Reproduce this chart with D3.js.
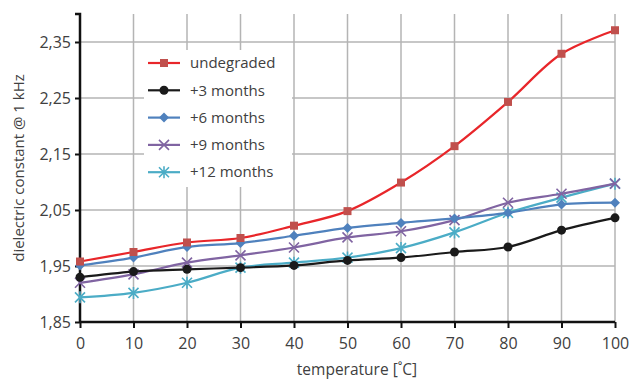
<!DOCTYPE html>
<html>
<head>
<meta charset="utf-8">
<script src="https://cdn.jsdelivr.net/npm/d3@7"></script>
<style>
  body { margin: 0; background: #fff; }
  svg text { font-family: "Open Sans", sans-serif; fill: #404040; }
</style>
</head>
<body>
<svg id="chart" width="629" height="381"></svg>
<script>
const temperatures = [0, 10, 20, 30, 40, 50, 60, 70, 80, 90, 100];
const undegraded = [1.958, 1.975, 1.992, 2.000, 2.022, 2.048, 2.099, 2.164, 2.243, 2.329, 2.371];
const months3 = [1.930, 1.940, 1.944, 1.947, 1.951, 1.960, 1.965, 1.975, 1.984, 2.014, 2.036];
const months6 = [1.951, 1.965, 1.984, 1.991, 2.004, 2.018, 2.027, 2.035, 2.045, 2.060, 2.063];
const months9 = [1.920, 1.935, 1.956, 1.969, 1.983, 2.001, 2.012, 2.032, 2.063, 2.079, 2.097];
const months12 = [1.894, 1.902, 1.920, 1.947, 1.956, 1.965, 1.982, 2.010, 2.045, 2.072, 2.097];
const yTicks = [1.85, 1.95, 2.05, 2.15, 2.25, 2.35];
const xTicks = [0, 10, 20, 30, 40, 50, 60, 70, 80, 90, 100];

const seriesList = [
  { name: 'undegraded', values: undegraded, line: '#e8262a', marker: '#c0504d', shape: 'square' },
  { name: '+3 months', values: months3, line: '#1a1a1a', marker: '#1a1a1a', shape: 'circle' },
  { name: '+6 months', values: months6, line: '#4f81bd', marker: '#4f81bd', shape: 'diamond' },
  { name: '+9 months', values: months9, line: '#8064a2', marker: '#8064a2', shape: 'cross' },
  { name: '+12 months', values: months12, line: '#4bacc6', marker: '#4bacc6', shape: 'star' }
];

const svg = d3.select('#chart');
const margin = { left: 80, right: 14, top: 14, bottom: 59 };
const width = 629, height = 381;

const x = d3.scaleLinear().domain([0, 100]).range([margin.left, width - margin.right]);
const y = d3.scaleLinear().domain([1.85, 2.40]).range([height - margin.bottom, margin.top]);

const fmt = d => d.toFixed(2).replace('.', ',');

// Grid
const grid = svg.append('g');
grid.selectAll('line.v')
  .data(xTicks.filter(t => t > 0))
  .join('line')
  .attr('x1', d => x(d)).attr('x2', d => x(d))
  .attr('y1', y.range()[1]).attr('y2', y.range()[0])
  .attr('stroke', '#b4b4b4').attr('stroke-width', 1.5);
grid.selectAll('line.h')
  .data(yTicks.filter(t => t > 1.85))
  .join('line')
  .attr('x1', x(0)).attr('x2', x(100))
  .attr('y1', d => y(d)).attr('y2', d => y(d))
  .attr('stroke', '#b4b4b4').attr('stroke-width', 1.5);

// Axes
const yAxis = svg.append('g')
  .attr('transform', `translate(${x(0)},0)`)
  .call(d3.axisLeft(y).tickValues(yTicks).tickFormat(fmt).tickSize(5).tickPadding(4));
const xAxis = svg.append('g')
  .attr('transform', `translate(0,${y(1.85)})`)
  .call(d3.axisBottom(x).tickValues(xTicks).tickSize(6).tickPadding(6));
[yAxis, xAxis].forEach(a => {
  a.select('.domain').attr('stroke', '#111').attr('stroke-width', 2.5);
  a.selectAll('.tick line').attr('stroke', '#111').attr('stroke-width', 2);
  a.selectAll('.tick text').attr('font-size', 16).style('font-family', '"Open Sans", sans-serif').attr('fill', '#404040');
});
yAxis.select('.domain').attr('d', `M-5,${y(2.40)}H0V${y(1.85)}`);
xAxis.select('.domain').attr('d', `M${x(0)},0H${x(100)}`);
xAxis.selectAll('.tick text').attr('dy', '0.95em');

// Axis titles
svg.append('text')
  .attr('x', 357).attr('y', 370).attr('dy', '0.35em')
  .attr('text-anchor', 'middle').attr('font-size', 15.5)
  .text('temperature [˚C]');
svg.append('text')
  .attr('transform', `translate(19,168) rotate(-90)`)
  .attr('dy', '0.35em')
  .attr('text-anchor', 'middle').attr('font-size', 15)
  .text('dielectric constant @ 1 kHz');

// Markers
function drawMarker(g, shape, color, cx, cy) {
  if (shape === 'square') {
    g.append('rect').attr('x', cx - 4).attr('y', cy - 4).attr('width', 8).attr('height', 8).attr('fill', color);
  } else if (shape === 'circle') {
    g.append('circle').attr('cx', cx).attr('cy', cy).attr('r', 4.5).attr('fill', color);
  } else if (shape === 'diamond') {
    g.append('path').attr('d', `M${cx},${cy - 5}L${cx + 5},${cy}L${cx},${cy + 5}L${cx - 5},${cy}Z`).attr('fill', color);
  } else if (shape === 'cross') {
    g.append('path').attr('d', `M${cx - 5},${cy - 5}L${cx + 5},${cy + 5}M${cx - 5},${cy + 5}L${cx + 5},${cy - 5}`)
      .attr('stroke', color).attr('stroke-width', 1.6);
  } else {
    g.append('path').attr('d', `M${cx - 5},${cy - 5}L${cx + 5},${cy + 5}M${cx - 5},${cy + 5}L${cx + 5},${cy - 5}M${cx},${cy - 6}V${cy + 6}`)
      .attr('stroke', color).attr('stroke-width', 1.6);
  }
}

const line = d3.line()
  .x((d, i) => x(temperatures[i]))
  .y(d => y(d))
  .curve(d3.curveCatmullRom.alpha(0.5));

// Draw in reverse so undegraded is on top
seriesList.slice().reverse().forEach(s => {
  const g = svg.append('g');
  g.append('path')
    .datum(s.values)
    .attr('fill', 'none')
    .attr('stroke', s.line)
    .attr('stroke-width', 2.2)
    .attr('d', line);
  s.values.forEach((v, i) => drawMarker(g, s.shape, s.marker, x(temperatures[i]), y(v)));
});

// Legend
const legend = svg.append('g');
legend.append('rect')
  .attr('x', 144).attr('y', 50).attr('width', 148).attr('height', 137)
  .attr('fill', '#fff');
seriesList.forEach((s, i) => {
  const ly = 63 + i * 27.3;
  const lg = legend.append('g');
  lg.append('line')
    .attr('x1', 148).attr('x2', 180).attr('y1', ly).attr('y2', ly)
    .attr('stroke', s.line).attr('stroke-width', 2.2);
  drawMarker(lg, s.shape, s.marker, 164, ly);
  lg.append('text')
    .attr('x', 190).attr('y', ly).attr('dy', '0.35em')
    .attr('font-size', 15)
    .text(s.name);
});
</script>
</body>
</html>
